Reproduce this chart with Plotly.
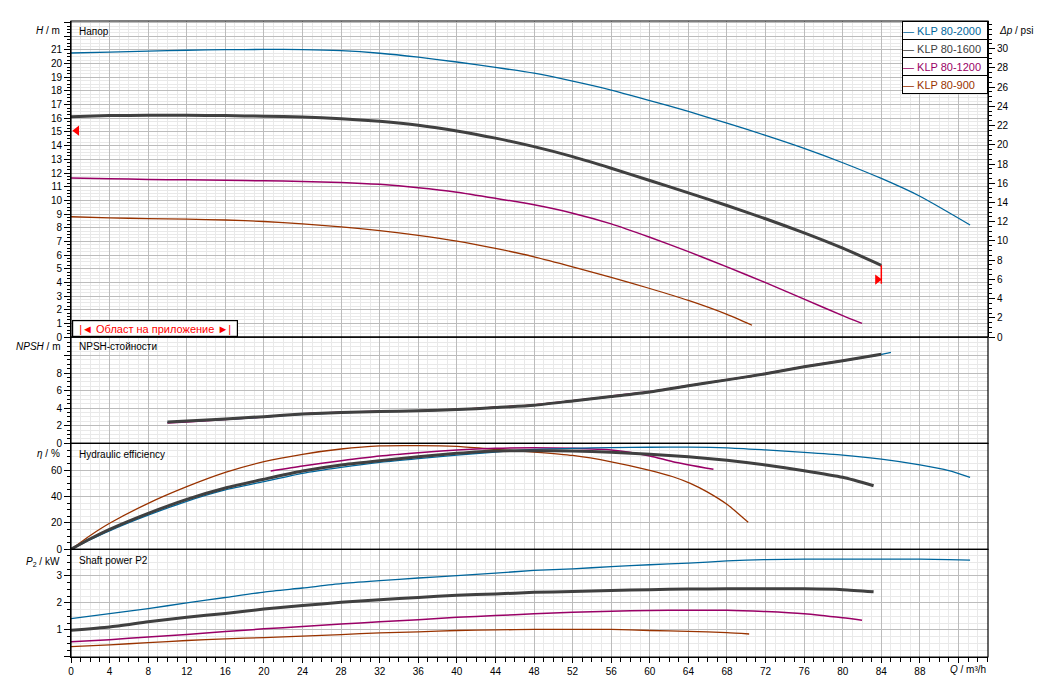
import plotly.graph_objects as go

# ---------------- data ----------------
SERIES = ["KLP 80-2000", "KLP 80-1600", "KLP 80-1200", "KLP 80-900"]
COLORS = ["#00669c", "#404040", "#990066", "#993300"]
WIDTHS = [1.3, 3.0, 1.5, 1.3]

# Head H [m]
Q_H_2000 = [0, 4, 8, 12, 16, 20, 24, 28, 32, 36, 40, 44, 48, 52, 56, 60, 64, 68, 72, 76, 80, 84, 88, 93.2]
H_2000 = [20.78, 20.85, 20.92, 20.98, 21.02, 21.04, 21.03, 20.95, 20.76, 20.47, 20.12, 19.73, 19.3, 18.72,
          18.07, 17.3, 16.5, 15.65, 14.75, 13.8, 12.75, 11.6, 10.3, 8.2]
Q_H_1600 = [0, 4, 8, 12, 16, 20, 24, 28, 32, 36, 40, 44, 48, 52, 56, 60, 64, 68, 72, 76, 80, 84]
H_1600 = [16.12, 16.2, 16.22, 16.22, 16.2, 16.15, 16.1, 15.97, 15.78, 15.5, 15.08, 14.55, 13.93, 13.2,
          12.35, 11.45, 10.55, 9.62, 8.65, 7.62, 6.5, 5.25]
Q_H_1200 = [0, 4, 8, 12, 16, 20, 24, 28, 32, 36, 40, 44, 48, 52, 56, 60, 64, 68, 72, 76, 80, 82]
H_1200 = [11.63, 11.58, 11.53, 11.5, 11.47, 11.43, 11.38, 11.31, 11.17, 10.93, 10.6, 10.15, 9.67, 9.06,
          8.28, 7.3, 6.25, 5.13, 3.98, 2.77, 1.57, 1.0]
Q_H_900 = [0, 4, 8, 12, 16, 20, 24, 28, 32, 36, 40, 44, 48, 52, 56, 60, 64, 68, 70.6]
H_900 = [8.8, 8.72, 8.66, 8.62, 8.56, 8.45, 8.28, 8.06, 7.78, 7.44, 7.02, 6.48, 5.87, 5.14, 4.36, 3.55,
         2.68, 1.66, 0.86]

# NPSH [m]
Q_N_2000 = [10, 12, 16, 20, 24, 28, 32, 36, 40, 44, 48, 52, 56, 60, 64, 68, 72, 76, 80, 84, 85]
N_2000 = [2.4, 2.5, 2.72, 3.0, 3.3, 3.48, 3.6, 3.68, 3.82, 4.05, 4.32, 4.8, 5.3, 5.82, 6.52, 7.2, 7.9,
          8.7, 9.38, 10.12, 10.35]
Q_N_1600 = [10, 12, 16, 20, 24, 28, 32, 36, 40, 44, 48, 52, 56, 60, 64, 68, 72, 76, 80, 84]
N_1600 = [2.43, 2.55, 2.78, 3.04, 3.33, 3.5, 3.62, 3.7, 3.84, 4.07, 4.34, 4.83, 5.33, 5.85, 6.55, 7.23,
          7.92, 8.72, 9.4, 10.15]
Q_N_1200 = [10, 12, 16, 20, 24, 28, 32, 36, 40, 44, 48, 52, 56, 60, 64, 68, 72, 76, 80, 82]
N_1200 = [2.3, 2.42, 2.7, 3.0, 3.38, 3.55, 3.64, 3.72, 3.85, 4.1, 4.37, 4.86, 5.37, 5.9, 6.58, 7.25,
          7.95, 8.75, 9.43, 9.75]
Q_N_900 = [10, 12, 16, 20, 24, 28, 32, 36, 40, 44, 48, 52, 56, 60, 64, 68, 70.6]
N_900 = [2.35, 2.5, 2.75, 3.05, 3.36, 3.52, 3.64, 3.73, 3.87, 4.12, 4.38, 4.85, 5.35, 5.87, 6.57, 7.25, 7.6]

# Hydraulic efficiency [%]
Q_E_2000 = [0, 2, 4, 8, 12, 16, 20, 24, 28, 32, 36, 40, 44, 48, 52, 56, 60, 64, 68, 72, 76, 80, 84, 88, 91, 93.2]
E_2000 = [0, 7.3, 14, 25.8, 36.3, 44.9, 51.2, 57.5, 62, 65.8, 68.6, 71.3, 73.6, 75.6, 76.4, 76.9, 77.2,
          77.3, 76.8, 75.2, 73.4, 71.3, 68.2, 63.9, 59.6, 54.5]
Q_E_1600 = [0, 2, 4, 8, 12, 16, 20, 24, 28, 32, 36, 40, 44, 48, 52, 56, 60, 64, 68, 72, 76, 80, 83.2]
E_1600 = [0, 8, 15.1, 27.2, 37.8, 46.4, 53, 59.2, 63.8, 67, 70.1, 72.6, 74.4, 74.6, 74.4, 73.4, 72.0,
          70.0, 67.3, 63.8, 59.5, 54.5, 48.1]
Q_E_1200 = [20.7, 24, 28, 32, 36, 40, 44, 48, 52, 56, 60, 62.4, 66.6]
E_1200 = [59.2, 63, 67, 70.6, 73.1, 75.1, 76.4, 76.9, 76.4, 75.1, 70.6, 66.3, 60.5]
Q_E_900 = [0, 2, 4, 8, 12, 16, 20, 24, 28, 32, 36, 40, 44, 48, 52, 56, 60, 62.4, 64.2, 65.9, 68.1, 70.2]
E_900 = [0, 10.5, 19.7, 34.8, 47.4, 58.2, 66.3, 71.9, 75.9, 78.2, 78.4, 77.8, 75.6, 73.6, 71.0, 66.2,
         59.8, 54.9, 49.9, 43.6, 33.5, 20.4]

# Shaft power P2 [kW]
Q_P_2000 = [0, 4, 8, 12, 16, 20, 24, 28, 32, 36, 40, 44, 48, 52, 56, 60, 64, 68, 72, 76, 80, 84, 88, 91, 93.2]
P_2000 = [1.42, 1.6, 1.79, 2.0, 2.2, 2.4, 2.55, 2.71, 2.82, 2.92, 3.01, 3.1, 3.2, 3.26, 3.34, 3.41, 3.47,
          3.55, 3.6, 3.62, 3.62, 3.62, 3.62, 3.6, 3.58]
Q_P_1600 = [0, 4, 8, 12, 16, 20, 24, 28, 32, 36, 40, 44, 48, 52, 56, 60, 64, 68, 72, 76, 80, 83.2]
P_1600 = [0.99, 1.11, 1.3, 1.47, 1.61, 1.77, 1.9, 2.02, 2.12, 2.2, 2.28, 2.33, 2.39, 2.42, 2.46, 2.49,
          2.51, 2.52, 2.52, 2.52, 2.49, 2.41]
Q_P_1200 = [0, 4, 8, 12, 16, 20, 24, 28, 32, 36, 40, 44, 48, 52, 56, 60, 64, 68, 72, 76, 80, 82]
P_1200 = [0.56, 0.64, 0.74, 0.83, 0.94, 1.04, 1.13, 1.22, 1.3, 1.38, 1.47, 1.53, 1.6, 1.65, 1.69, 1.72,
          1.73, 1.73, 1.68, 1.6, 1.45, 1.36]
Q_P_900 = [0, 4, 8, 12, 16, 20, 24, 28, 32, 36, 40, 44, 48, 52, 56, 60, 64, 68, 70.3]
P_900 = [0.38, 0.45, 0.53, 0.61, 0.67, 0.72, 0.77, 0.83, 0.89, 0.93, 0.98, 1.0, 1.02, 1.02, 1.02, 0.98,
         0.95, 0.9, 0.85]

# Operating-range limit markers (H panel)
RANGE_LEFT_Q = [0.6]
RANGE_LEFT_H = [15.1]
RANGE_RIGHT_LINE_Q = [84, 84]
RANGE_RIGHT_LINE_H = [5.25, 3.9]
RANGE_RIGHT_Q = [83.6]
RANGE_RIGHT_H = [4.2]

X_TICKS = list(range(0, 96, 4))
X_TICK_TEXT = [str(v) if v <= 88 else "" for v in X_TICKS]
H_TICKS = list(range(0, 24))
H_TICK_TEXT = [str(v) if v <= 21 else "" for v in H_TICKS]
PSI_TICKS = list(range(0, 32, 2))
N_TICKS = [0, 2, 4, 6, 8, 10, 12]
N_TICK_TEXT = ["0", "2", "4", "6", "8", "", ""]
E_TICKS = [0, 20, 40, 60, 80]
E_TICK_TEXT = ["0", "20", "40", "60", ""]
P_TICKS = [0, 1, 2, 3]
P_TICK_TEXT = ["", "1", "2", "3"]

M_TO_PSI = 1.42233
H_MAX = 23.12
N_MAX = 12.11
E_MAX = 80.2
P_MAX = 3.98
Q_MAX = 95.06

# ---------------- figure ----------------
FONT = "Liberation Sans, Arial, sans-serif"
D_P = [0.0, 0.1693]
D_E = [0.1693, 0.3360]
D_N = [0.3360, 0.5031]
D_H = [0.5031, 1.0]

fig = go.Figure()

H_SETS = [(Q_H_2000, H_2000), (Q_H_1600, H_1600), (Q_H_1200, H_1200), (Q_H_900, H_900)]
N_SETS = [(Q_N_2000, N_2000), (Q_N_1600, N_1600), (Q_N_1200, N_1200), (Q_N_900, N_900)]
E_SETS = [(Q_E_2000, E_2000), (Q_E_1600, E_1600), (Q_E_1200, E_1200), (Q_E_900, E_900)]
P_SETS = [(Q_P_2000, P_2000), (Q_P_1600, P_1600), (Q_P_1200, P_1200), (Q_P_900, P_900)]

order = [3, 2, 0, 1]  # draw the thick dark curve last
for sets, yref in [(H_SETS, "y"), (N_SETS, "y2"), (E_SETS, "y3"), (P_SETS, "y4")]:
    for i in order:
        q, v = sets[i]
        fig.add_trace(go.Scatter(
            x=q, y=v, xaxis="x", yaxis=yref, mode="lines", name=SERIES[i],
            line=dict(color=COLORS[i], width=WIDTHS[i], shape="spline", smoothing=0.6),
            showlegend=False, hoverinfo="x+y+name"))

# operating range markers
fig.add_trace(go.Scatter(x=RANGE_LEFT_Q, y=RANGE_LEFT_H, xaxis="x", yaxis="y", mode="markers",
                         marker=dict(symbol="triangle-left", size=9, color="red"),
                         showlegend=False, hoverinfo="skip", cliponaxis=False))
fig.add_trace(go.Scatter(x=RANGE_RIGHT_LINE_Q, y=RANGE_RIGHT_LINE_H, xaxis="x", yaxis="y", mode="lines",
                         line=dict(color="red", width=1.5), showlegend=False, hoverinfo="skip"))
fig.add_trace(go.Scatter(x=RANGE_RIGHT_Q, y=RANGE_RIGHT_H, xaxis="x", yaxis="y", mode="markers",
                         marker=dict(symbol="triangle-right", size=9, color="red"),
                         showlegend=False, hoverinfo="skip"))
# carrier for the psi axis
fig.add_trace(go.Scatter(x=[0], y=[0], xaxis="x", yaxis="y5", mode="lines",
                         line=dict(width=0), showlegend=False, hoverinfo="skip"))

GRID = "#bcbcbc"
MINOR_GRID = "#e9e9e9"
TICKFONT = dict(family=FONT, size=10, color="black")


def yaxis(domain, rng, tickvals, ticktext, minor_dtick):
    return dict(
        domain=domain, range=rng, anchor="x", tickmode="array", tickvals=tickvals, ticktext=ticktext,
        showgrid=True, gridcolor=GRID, gridwidth=1, zeroline=False,
        ticks="outside", ticklen=6, tickcolor="black", tickwidth=1, tickfont=TICKFONT,
        showline=True, linecolor="black", linewidth=1,
        minor=dict(tickmode="linear", tick0=0, dtick=minor_dtick, ticks="outside", ticklen=3,
                   tickcolor="black", showgrid=True, gridcolor=MINOR_GRID, gridwidth=1),
    )


# the page body adds an 8px offset, so the figure is 8px smaller and margins shifted
fig.update_layout(
    width=1052, height=686,
    margin=dict(l=63, r=72, t=13, b=37),
    paper_bgcolor="white", plot_bgcolor="white",
    font=dict(family=FONT, size=10, color="black"),
    showlegend=False,
    xaxis=dict(
        domain=[0, 1], range=[0, Q_MAX], anchor="y4", tickmode="array", tickvals=X_TICKS,
        ticktext=X_TICK_TEXT, showgrid=True, gridcolor=GRID, gridwidth=1, zeroline=False,
        ticks="outside", ticklen=5, tickcolor="black", tickfont=TICKFONT,
        showline=True, linecolor="black", linewidth=1,
        minor=dict(tickmode="linear", tick0=0, dtick=1, ticks="outside", ticklen=4, tickcolor="black",
                   showgrid=True, gridcolor=MINOR_GRID, gridwidth=1),
    ),
    yaxis=yaxis(D_H, [0, H_MAX], H_TICKS, H_TICK_TEXT, 0.25),
    yaxis2=yaxis(D_N, [0, N_MAX], N_TICKS, N_TICK_TEXT, 0.5),
    yaxis3=yaxis(D_E, [0, E_MAX], E_TICKS, E_TICK_TEXT, 5),
    yaxis4=yaxis(D_P, [0, P_MAX], P_TICKS, P_TICK_TEXT, 0.25),
    yaxis5=dict(
        overlaying="y", side="right", anchor="x", range=[0, H_MAX * M_TO_PSI],
        tickmode="array", tickvals=PSI_TICKS, showgrid=False, zeroline=False,
        ticks="outside", ticklen=6, tickcolor="black", tickfont=TICKFONT,
        showline=True, linecolor="black", linewidth=1,
        minor=dict(tickmode="linear", tick0=0, dtick=0.5, ticks="outside", ticklen=3, tickcolor="black"),
    ),
)

# panel frames
for d in [D_H, D_N, D_E, D_P]:
    fig.add_shape(type="rect", xref="paper", yref="paper", x0=0, x1=1, y0=d[0], y1=d[1],
                  line=dict(color="black", width=1.2), layer="above")

ann = []
# axis titles
ann.append(dict(xref="paper", yref="y", x=-0.0098, y=22.4, xanchor="right", yanchor="middle",
                text="<i>H</i> / m", showarrow=False, font=dict(size=10)))
ann.append(dict(xref="paper", yref="y2", x=-0.0098, y=11.0, xanchor="right", yanchor="middle",
                text="<i>NPSH</i> / m", showarrow=False, font=dict(size=10)))
ann.append(dict(xref="paper", yref="y3", x=-0.0098, y=72.5, xanchor="right", yanchor="middle",
                text="<i>η</i> / %", showarrow=False, font=dict(size=10)))
ann.append(dict(xref="paper", yref="y4", x=-0.0098, y=3.52, xanchor="right", yanchor="middle",
                text="<i>P</i><sub>2</sub> / kW", showarrow=False, font=dict(size=10)))
ann.append(dict(xref="paper", yref="y", x=1.0098, y=22.4, xanchor="left", yanchor="middle",
                text="<i>Δp</i> / psi", showarrow=False, font=dict(size=10)))
ann.append(dict(xref="paper", yref="paper", x=1.0, y=-0.0204, xanchor="right", yanchor="middle",
                text="<i>Q</i> / m³/h", showarrow=False, font=dict(size=10)))
# panel titles
ann.append(dict(xref="paper", yref="y", x=0.0065, y=22.32, xanchor="left", yanchor="middle",
                text="Напор", showarrow=False, font=dict(size=10)))
ann.append(dict(xref="paper", yref="y2", x=0.0065, y=11.0, xanchor="left", yanchor="middle",
                text="NPSH-стойности", showarrow=False, font=dict(size=10)))
ann.append(dict(xref="paper", yref="y3", x=0.0065, y=71.6, xanchor="left", yanchor="middle",
                text="Hydraulic efficiency", showarrow=False, font=dict(size=10)))
ann.append(dict(xref="paper", yref="y4", x=0.0065, y=3.55, xanchor="left", yanchor="middle",
                text="Shaft power P2", showarrow=False, font=dict(size=10)))
# operating range box
ann.append(dict(xref="paper", yref="y", x=0.0015, y=0.0, xanchor="left", yanchor="bottom",
                text="|◄ Област на приложение ►|", showarrow=False,
                font=dict(size=11, color="red"), bgcolor="white", bordercolor="black",
                borderwidth=1.2, borderpad=0, width=164, height=15))
# legend rows
for k, (name, col) in enumerate(zip(SERIES, COLORS)):
    ann.append(dict(xref="paper", yref="paper", x=1.0, y=1.0 - 18 * k / 636.0,
                    xanchor="right", yanchor="top", align="left",
                    text=f"— {name}", showarrow=False,
                    font=dict(size=11, color=col), bgcolor="white", bordercolor="black",
                    borderwidth=1, borderpad=0, width=84, height=17))
fig.update_layout(annotations=ann)

fig.write_html("out.html")
